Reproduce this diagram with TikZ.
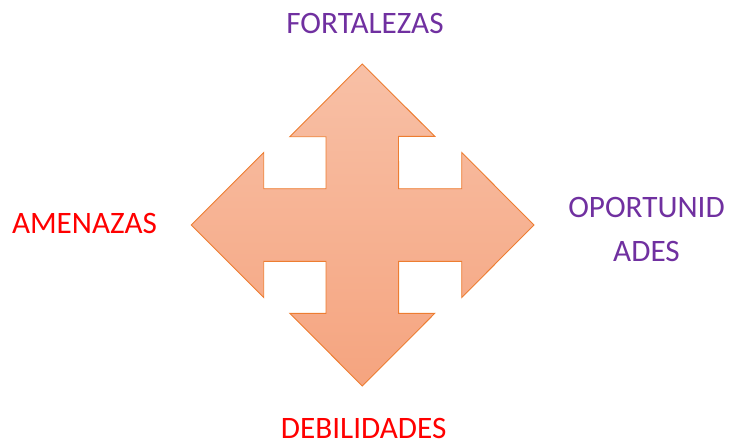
\documentclass[tikz,border=0pt]{standalone}
\usepackage{fontspec}
\setmainfont{Carlito}
\usepackage{tikz}
\usetikzlibrary{calc}

\definecolor{swotpurple}{HTML}{7030A0}
\definecolor{swotred}{HTML}{FF0000}
\definecolor{crossline}{HTML}{ED7D31}
\definecolor{crosstop}{HTML}{F8C0A6}
\definecolor{crossbottom}{HTML}{F5A47F}

\tikzset{
  label/.style={font=\fontsize{31.2}{44}\selectfont, inner sep=0, anchor=base, align=center},
  cross/.style={draw=crossline, line width=0.9pt, line join=miter, top color=crosstop, bottom color=crossbottom}
}

\begin{document}
\begin{tikzpicture}[x=1,y=-1]
\useasboundingbox (0,0) rectangle (729,444);

\coordinate (c) at (362.3,225);
\path[cross] ($(c)+(0,-161)$) -- ++(72.5,72.4) -- ++(-36.3,0) -- ($(c)+(36.3,-36.3)$)
  -- ($(c)+(99.4,-36.3)$) -- ++(0,-36.2) -- ($(c)+(171.7,0)$) -- ($(c)+(99.4,72.5)$) -- ++(0,-36.2)
  -- ($(c)+(36.3,36.3)$) -- ($(c)+(36.3,88.3)$) -- ++(36.2,0) -- ($(c)+(0,161)$) -- ($(c)+(-72.5,88.3)$) -- ++(36.2,0)
  -- ($(c)+(-36.3,36.3)$) -- ($(c)+(-98.6,36.3)$) -- ++(0,36.2) -- ($(c)+(-171,0)$) -- ($(c)+(-98.6,-72.5)$) -- ++(0,36.2)
  -- ($(c)+(-36.3,-36.3)$) -- ($(c)+(-36.3,-88.3)$) -- ++(-36.2,0) -- cycle;

\node[label, text=swotpurple] (fortalezas) at (365,33.3) {FORTALEZAS};
\node[label, text=swotred] (amenazas) at (84.5,233.3) {AMENAZAS};
\node[label, text=swotpurple] (oportunidades) at (646.5,261.7) {OPORTUNID\\ADES};
\node[label, text=swotred] (debilidades) at (363.7,438.5) {DEBILIDADES};
\end{tikzpicture}
\end{document}
